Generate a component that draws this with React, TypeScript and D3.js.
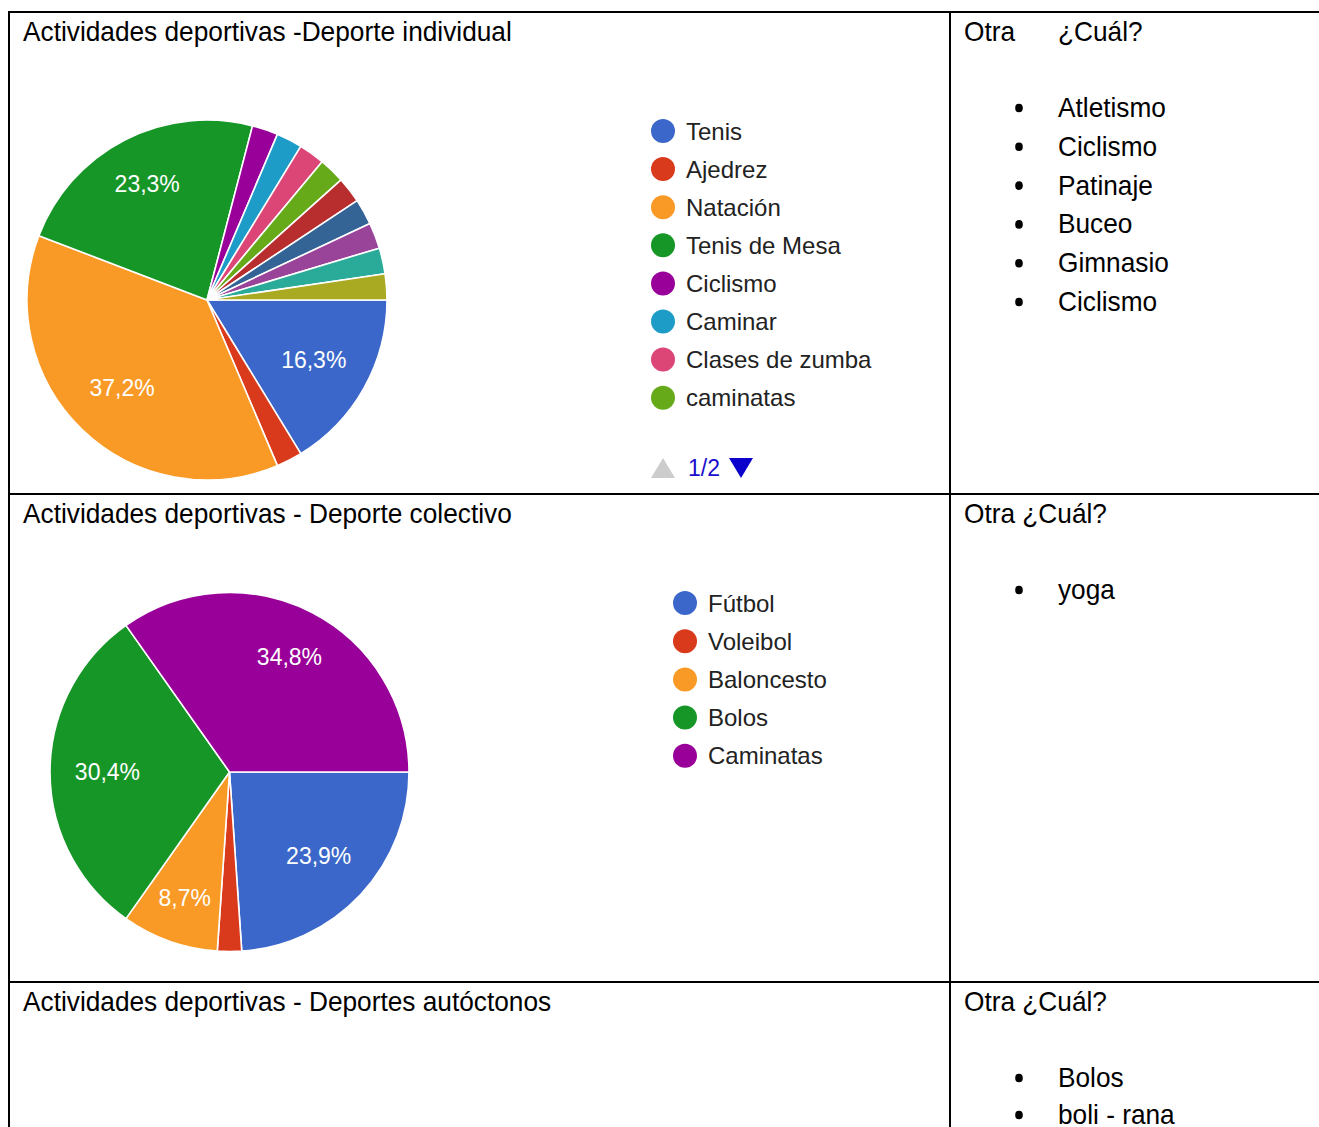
import React from 'react';
import * as d3 from 'd3';

// Deporte individual (43 respuestas)
const individualLabels = ['Tenis', 'Ajedrez', 'Natación', 'Tenis de Mesa', 'Ciclismo', 'Caminar', 'Clases de zumba', 'caminatas'];
const individualValues = [7, 1, 16, 10, 1, 1, 1, 1, 1, 1, 1, 1, 1];

// Deporte colectivo (46 respuestas)
const colectivoLabels = ['Fútbol', 'Voleibol', 'Baloncesto', 'Bolos', 'Caminatas'];
const colectivoValues = [11, 1, 4, 14, 16];

// columna derecha
const otrasIndividual = ['Atletismo', 'Ciclismo', 'Patinaje', 'Buceo', 'Gimnasio', 'Ciclismo'];
const otrasColectivo = ['yoga'];
const otrasAutoctonos = ['Bolos', 'boli - rana'];

const googleColors = ['#3a67c9', '#da3a1c', '#fa9a26', '#179628', '#990099', '#1d9cc8', '#dc4677', '#66aa1a', '#b82e2e', '#346496', '#994499', '#2aaa99', '#aaaa22'];

const W = 1319;
const H = 1127;
const tableFont = '"Liberation Sans", Arial, sans-serif';
const chartFont = 'Arial, "Liberation Sans", sans-serif';

const esLocale = d3.formatLocale({ decimal: ',', thousands: '.', grouping: [3], currency: ['', '€'] });
const fmtPct = esLocale.format('.1%');

const Pie = ({ values, cx, cy, r }) => {
  const color = d3.scaleOrdinal<number, string>().domain(d3.range(values.length)).range(googleColors);
  const total = d3.sum(values);
  const pie = d3.pie<number>().sort(null).value(d => d)
    .startAngle(Math.PI / 2).endAngle(Math.PI / 2 + 2 * Math.PI);
  const arcs = pie(values);
  const arc = d3.arc<d3.PieArcDatum<number>>().innerRadius(0).outerRadius(r);
  return (
    <g transform={`translate(${cx},${cy})`}>
      {arcs.map((a, i) => (
        <path key={i} d={arc(a) || ''} fill={color(i)} stroke="#fff" strokeWidth={1.6} strokeLinejoin="round" />
      ))}
      {arcs.map((a, i) => {
        if (a.data / total < 0.05) return null;
        const mid = (a.startAngle + a.endAngle) / 2;
        // etiquetas cerca de arriba/abajo van un poco más afuera
        const lr = r * 0.68 + Math.max(0, Math.abs(Math.cos(mid)) - 0.75) * 60;
        const x = Math.sin(mid) * lr;
        const y = -Math.cos(mid) * lr;
        return (
          <text key={'l' + i} x={x} y={y} dy="0.36em" textAnchor="middle" fill="#fff"
            fontFamily={chartFont} fontSize={23}>{fmtPct(a.data / total)}</text>
        );
      })}
    </g>
  );
};

const Legend = ({ labels, x, y, step }) => {
  const color = d3.scaleOrdinal<number, string>().domain(d3.range(googleColors.length)).range(googleColors);
  return (
    <g transform={`translate(${x},${y})`}>
      {labels.map((l, i) => (
        <g key={i} transform={`translate(0,${i * step})`}>
          <circle cx={0} cy={0} r={12} fill={color(i)} />
          <text x={23} y={0} dy="0.36em" fontFamily={chartFont} fontSize={24} fill="#222">{l}</text>
        </g>
      ))}
    </g>
  );
};

// texto de la tabla (un poco más alto que ancho, como en el documento)
const T = ({ x, y, children }) => (
  <text transform={`translate(${x},${y}) scale(1.01,1.08)`} fontFamily={tableFont} fontSize={26} fill="#000">{children}</text>
);

const Bullets = ({ items, y, step }) => (
  <g>
    {items.map((t, i) => (
      <g key={i}>
        <ellipse cx={1019} cy={y + i * step - 9} rx={3.8} ry={4.3} fill="#000" />
        <T x={1058} y={y + i * step}>{t}</T>
      </g>
    ))}
  </g>
);

export default function App() {
  return (
    <svg width={W} height={H} style={{ position: 'absolute', left: 0, top: 0, background: '#fff' }}>
      <rect x={0} y={0} width={W} height={H} fill="#fff" />

      {/* bordes de la tabla */}
      <g stroke="#000" strokeWidth={2}>
        <line x1={9} y1={12} x2={W} y2={12} />
        <line x1={9} y1={11} x2={9} y2={H} />
        <line x1={950} y1={11} x2={950} y2={H} />
        <line x1={9} y1={494} x2={W} y2={494} />
        <line x1={9} y1={982} x2={W} y2={982} />
      </g>

      {/* fila 1 */}
      <T x={23} y={41}>Actividades deportivas -Deporte individual</T>
      <T x={964} y={41}>Otra</T>
      <T x={1058} y={41}>¿Cuál?</T>
      <Bullets items={otrasIndividual} y={117} step={38.8} />
      <Pie values={individualValues} cx={207} cy={300} r={180} />
      <Legend labels={individualLabels} x={663} y={131} step={38.1} />
      <g transform="translate(663,468)">
        <path d={d3.line()([[-12, 10], [0, -10], [12, 10]]) + 'Z'} fill="#ccc" />
        <text x={25} y={0} dy="0.36em" fontFamily={chartFont} fontSize={23} fill="#1a0dcc">1/2</text>
        <path d={d3.line()([[66, -10], [90, -10], [78, 10]]) + 'Z'} fill="#0b00cc" />
      </g>

      {/* fila 2 */}
      <T x={23} y={523}>Actividades deportivas - Deporte colectivo</T>
      <T x={964} y={523}>Otra ¿Cuál?</T>
      <Bullets items={otrasColectivo} y={599} step={38.8} />
      <Pie values={colectivoValues} cx={229.5} cy={772} r={179.5} />
      <Legend labels={colectivoLabels} x={685} y={603} step={38.2} />

      {/* fila 3 */}
      <T x={23} y={1011}>Actividades deportivas - Deportes autóctonos</T>
      <T x={964} y={1011}>Otra ¿Cuál?</T>
      <Bullets items={otrasAutoctonos} y={1087} step={37} />
    </svg>
  );
}
